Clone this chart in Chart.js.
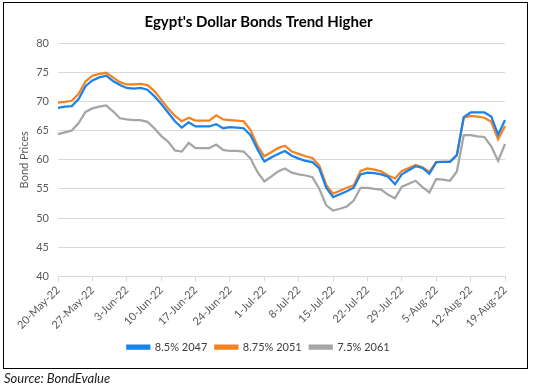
<!DOCTYPE html>
<html>
<head>
<meta charset="utf-8">
<script src="https://cdn.jsdelivr.net/npm/chart.js@4.4.1/dist/chart.umd.min.js"></script>
<style>
  html, body { margin: 0; padding: 0; background: #fff; }
  #wrap { position: relative; width: 534px; height: 387px; font-family: Lato, "Liberation Sans", sans-serif; }
  #frame { position: absolute; left: 3px; top: 2px; width: 523px; height: 365px; border: 1px solid #000; pointer-events: none; }
  #chart { position: absolute; left: 0; top: 0; }
  #source { position: absolute; left: 4px; top: 370px; font-style: italic; font-size: 13px; color: #222; }
</style>
</head>
<body>
<div id="wrap">
  <canvas id="chart" width="534" height="387"></canvas>
  <div id="frame"></div>
  <div id="source">Source: BondEvalue</div>
</div>
<script>
// business days, 20-May-22 .. 19-Aug-22
const dates = [
  "20-May-22","23-May-22","24-May-22","25-May-22","26-May-22","27-May-22","30-May-22","31-May-22",
  "1-Jun-22","2-Jun-22","3-Jun-22","6-Jun-22","7-Jun-22","8-Jun-22","9-Jun-22","10-Jun-22",
  "13-Jun-22","14-Jun-22","15-Jun-22","16-Jun-22","17-Jun-22","20-Jun-22","21-Jun-22","22-Jun-22",
  "23-Jun-22","24-Jun-22","27-Jun-22","28-Jun-22","29-Jun-22","30-Jun-22",
  "1-Jul-22","4-Jul-22","5-Jul-22","6-Jul-22","7-Jul-22","8-Jul-22","11-Jul-22","12-Jul-22",
  "13-Jul-22","14-Jul-22","15-Jul-22","18-Jul-22","19-Jul-22","20-Jul-22","21-Jul-22","22-Jul-22",
  "25-Jul-22","26-Jul-22","27-Jul-22","28-Jul-22","29-Jul-22",
  "1-Aug-22","2-Aug-22","3-Aug-22","4-Aug-22","5-Aug-22","8-Aug-22","9-Aug-22","10-Aug-22",
  "11-Aug-22","12-Aug-22","15-Aug-22","16-Aug-22","17-Aug-22","18-Aug-22","19-Aug-22"
];

const tickDates = ["20-May-22","27-May-22","3-Jun-22","10-Jun-22","17-Jun-22","24-Jun-22","1-Jul-22",
  "8-Jul-22","15-Jul-22","22-Jul-22","29-Jul-22","5-Aug-22","12-Aug-22","19-Aug-22"];

const bond2047 = [
  68.9, 69.1, 69.2, 70.4, 72.6, 73.6, 74.1, 74.4, 73.5, 72.8,
  72.3, 72.2, 72.3, 72.0, 70.9, 69.6, 68.1, 66.6, 65.5, 66.4,
  65.7, 65.7, 65.7, 66.1, 65.4, 65.6, 65.5, 65.4, 64.2, 61.8,
  59.7, 60.4, 61.0, 61.5, 60.7, 60.2, 59.8, 59.6, 58.5, 55.2,
  53.6, 54.1, 54.6, 55.2, 57.5, 57.8, 57.7, 57.5, 57.1, 55.8,
  57.5, 58.2, 58.9, 58.6, 57.6, 59.6, 59.65, 59.65, 60.8, 67.3,
  68.1, 68.1, 68.1, 67.4, 64.3, 66.8
];

const bond2051 = [
  69.8, 69.9, 70.1, 71.3, 73.4, 74.4, 74.7, 74.9, 74.1, 73.3,
  72.9, 72.9, 73.0, 72.8, 71.8, 70.3, 68.8, 67.5, 66.6, 67.2,
  66.7, 66.7, 66.7, 67.6, 66.9, 66.8, 66.7, 66.6, 65.1, 62.4,
  60.6, 61.3, 62.0, 62.4, 61.4, 61.0, 60.6, 60.3, 59.0, 55.7,
  54.2, 54.7, 55.2, 55.6, 58.1, 58.5, 58.3, 58.0, 57.3, 56.8,
  58.1, 58.6, 59.1, 58.7, 57.9, 59.6, 59.65, 59.65, 60.8, 67.2,
  67.5, 67.4, 67.2, 66.5, 63.5, 65.8
];

const bond2061 = [
  64.4, 64.7, 65.0, 66.3, 68.2, 68.8, 69.1, 69.3, 68.3, 67.1,
  66.9, 66.8, 66.8, 66.5, 65.4, 64.1, 63.1, 61.6, 61.4, 62.9,
  62.0, 62.0, 62.0, 62.6, 61.7, 61.5, 61.5, 61.4, 60.2, 57.9,
  56.3, 57.1, 58.0, 58.5, 57.8, 57.5, 57.3, 57.0, 55.0, 52.2,
  51.3, 51.6, 52.0, 53.0, 55.2, 55.2, 55.0, 54.9, 54.0, 53.4,
  55.4, 55.9, 56.4, 55.3, 54.4, 56.7, 56.6, 56.4, 58.0, 64.2,
  64.2, 64.0, 63.9, 62.3, 59.8, 62.7
];

const seriesNames = ["8.5% 2047", "8.75% 2051", "7.5% 2061"];
const seriesColors = ["#1a82ea", "#f58220", "#a5a5a5"];

const FONT = "Lato, 'Liberation Sans', sans-serif";
const gridColor = "#d9d9d9";
const textColor = "#595959";

const datasets = [bond2047, bond2051, bond2061].map((vals, i) => ({
  label: seriesNames[i],
  data: vals,
  borderColor: seriesColors[i],
  backgroundColor: seriesColors[i],
  borderWidth: 2.25,
  pointRadius: 0,
  tension: 0,
  fill: false
}));

new Chart(document.getElementById("chart"), {
  type: "line",
  data: { labels: dates, datasets: datasets },
  options: {
    responsive: false,
    animation: false,
    layout: { padding: { left: 12, right: 29, top: 0, bottom: 24.5 } },
    plugins: {
      title: {
        display: true,
        text: "Egypt's Dollar Bonds Trend Higher",
        color: "#000",
        font: { family: FONT, size: 15, weight: "bold" },
        padding: { top: 13, bottom: 12 }
      },
      legend: {
        position: "bottom",
        labels: {
          boxWidth: 22, boxHeight: 3, padding: 8,
          color: "#404040",
          font: { family: FONT, size: 11 }
        }
      },
      tooltip: { enabled: false }
    },
    scales: {
      x: {
        afterFit: (s) => { s.height = 57; },
        grid: {
          drawOnChartArea: false,
          tickLength: 5,
          color: (ctx) => ctx.index % 5 === 0 ? gridColor : "transparent"
        },
        border: { color: gridColor },
        ticks: {
          autoSkip: false,
          minRotation: 45, maxRotation: 45,
          padding: 2,
          color: textColor,
          font: { family: FONT, size: 11 },
          callback: function (v, i) {
            const d = this.getLabelForValue(v);
            return tickDates.includes(d) ? d : "";
          }
        }
      },
      y: {
        min: 40, max: 80,
        afterFit: (s) => { s.width = 46; },
        grid: { color: gridColor, drawTicks: false },
        border: { display: false },
        ticks: {
          stepSize: 5, padding: 9,
          color: textColor,
          font: { family: FONT, size: 11 }
        },
        title: {
          display: true,
          text: "Bond Prices",
          color: textColor,
          font: { family: FONT, size: 11 },
          padding: { top: 6, bottom: 0 }
        }
      }
    }
  }
});
</script>
</body>
</html>
